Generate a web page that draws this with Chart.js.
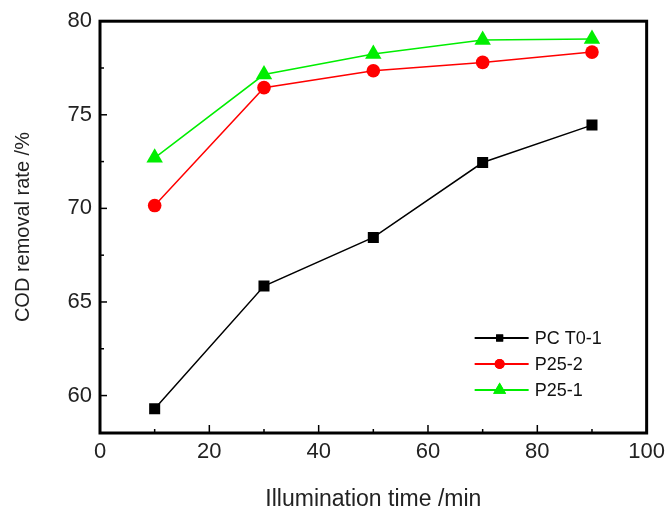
<!DOCTYPE html>
<html>
<head>
<meta charset="utf-8">
<script src="https://cdn.jsdelivr.net/npm/chart.js@4/dist/chart.umd.min.js"></script>
<style>
html,body{margin:0;padding:0;background:#fff;}
#wrap{width:671px;height:513px;position:relative;}
</style>
</head>
<body>
<div id="wrap"><canvas id="c" width="671" height="513"></canvas></div>
<script>
const times = [10, 30, 50, 70, 90];
const seriesNames = ['PC T0-1', 'P25-2', 'P25-1'];
const pct01 = [59.3, 65.85, 68.45, 72.45, 74.45];
const p252 = [70.15, 76.45, 77.35, 77.8, 78.35];
const p251 = [72.7, 77.15, 78.25, 79.0, 79.05];
const xTicks = [0, 20, 40, 60, 80, 100];
const yTicks = [60, 65, 70, 75, 80];

const colors = ['#000000', '#ff0000', '#00ee00'];
const shapes = ['rect', 'circle', 'triangle'];
const radii = [7.8, 6.8, 9.5];
const legendRadii = [5, 5, 7.5];
const values = [pct01, p252, p251];

const FONT = '"Liberation Sans", Arial, sans-serif';

const datasets = values.map((vals, i) => ({
  label: seriesNames[i],
  data: times.map((t, j) => ({x: t, y: vals[j]})),
  borderColor: colors[i],
  backgroundColor: colors[i],
  borderWidth: 1.5,
  pointStyle: shapes[i],
  pointRadius: radii[i],
  pointHoverRadius: radii[i],
  pointBorderWidth: 0,
  tension: 0
}));

const framePlugin = {
  id: 'frame',
  afterDraw(chart) {
    const ctx = chart.ctx;
    const a = chart.chartArea;
    const xs = chart.scales.x, ys = chart.scales.y;
    ctx.save();
    ctx.strokeStyle = '#000';
    ctx.lineWidth = 3;
    ctx.strokeRect(a.left, a.top, a.right - a.left, a.bottom - a.top);
    ctx.lineWidth = 1.5;
    for (let v = 0; v <= 100; v += 10) {
      const px = xs.getPixelForValue(v);
      const len = (v % 20 === 0) ? 8 : 4;
      ctx.beginPath();
      ctx.moveTo(px, a.bottom);
      ctx.lineTo(px, a.bottom - len);
      ctx.stroke();
    }
    for (let v = 60; v <= 80; v += 2.5) {
      const py = ys.getPixelForValue(v);
      const len = (v % 5 === 0) ? 7 : 4;
      ctx.beginPath();
      ctx.moveTo(a.left, py);
      ctx.lineTo(a.left + len, py);
      ctx.stroke();
    }
    const lx = a.right - 172, ly0 = a.bottom - 95, dy = 26;
    chart.data.datasets.forEach((ds, i) => {
      const y = ly0 + i * dy;
      ctx.strokeStyle = ds.borderColor;
      ctx.lineWidth = 2;
      ctx.beginPath();
      ctx.moveTo(lx, y);
      ctx.lineTo(lx + 54, y);
      ctx.stroke();
      ctx.fillStyle = ds.backgroundColor;
      Chart.helpers.drawPoint(ctx, {pointStyle: ds.pointStyle, radius: legendRadii[i], borderWidth: 0}, lx + 25, y);
      ctx.fill();
      ctx.fillStyle = '#111';
      ctx.font = '18px ' + FONT;
      ctx.textBaseline = 'middle';
      ctx.textAlign = 'left';
      ctx.fillText(ds.label, lx + 60, y + 1);
    });
    ctx.restore();
  }
};

new Chart(document.getElementById('c'), {
  type: 'line',
  data: { datasets },
  options: {
    responsive: false,
    animation: false,
    devicePixelRatio: 1,
    layout: { padding: { top: 20, right: 15, left: 0, bottom: 0 } },
    plugins: { legend: { display: false }, tooltip: { enabled: false } },
    scales: {
      x: {
        type: 'linear',
        min: 0, max: 100,
        afterBuildTicks: s => { s.ticks = xTicks.map(v => ({value: v})); },
        afterFit: s => { s.height = 80; },
        grid: { display: false, drawTicks: false },
        border: { display: false },
        ticks: { color: '#222', font: { family: FONT, size: 22 }, padding: 6, maxRotation: 0 },
        title: { display: true, text: 'Illumination time /min', color: '#222', font: { family: FONT, size: 23 }, padding: { top: 0, bottom: 0 } }
      },
      y: {
        type: 'linear',
        min: 58, max: 80,
        afterBuildTicks: s => { s.ticks = yTicks.map(v => ({value: v})); },
        afterFit: s => { s.width = 100; },
        grid: { display: false, drawTicks: false },
        border: { display: false },
        ticks: { color: '#222', font: { family: FONT, size: 22 }, padding: 8 },
        title: { display: true, text: 'COD removal rate /%', color: '#222', font: { family: FONT, size: 20 }, padding: { top: 11, bottom: 0 } }
      }
    }
  },
  plugins: [framePlugin]
});
</script>
</body>
</html>
